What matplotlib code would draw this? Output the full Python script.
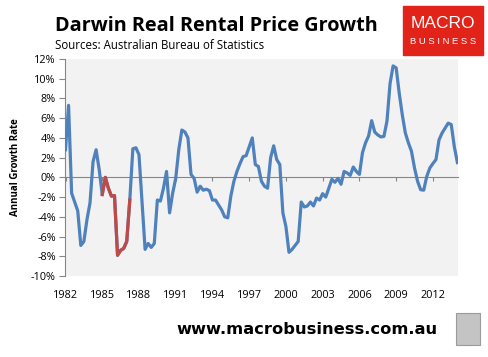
import matplotlib.pyplot as plt
import numpy as np
from matplotlib.patches import Rectangle

# quarterly annual growth rate (%), 1982 Q1 onwards
growth = [
    2.8, 7.3, -1.6, -2.5, -3.4, -6.9, -6.5, -4.3, -2.6, 1.6, 2.8, 0.8,
    -1.75, 0.0, -1.1, -1.9, -1.85, -7.9, -7.4, -7.2, -6.5, -2.3, 2.9, 3.0,
    2.3, -2.5, -7.3, -6.7, -7.1, -6.7, -2.3, -2.4, -1.1, 0.6, -3.6, -1.6,
    -0.1, 2.8, 4.8, 4.6, 4.0, 0.3, -0.1, -1.5, -0.9, -1.3, -1.2, -1.35,
    -2.3, -2.3, -2.8, -3.3, -4.0, -4.1, -1.9, -0.4, 0.6, 1.4, 2.1, 2.2,
    3.1, 4.0, 1.3, 1.1, -0.4, -0.9, -1.1, 2.0, 3.2, 1.8, 1.3, -3.6,
    -5.0, -7.6, -7.3, -6.9, -6.5, -2.5, -3.0, -2.9, -2.5, -2.9, -2.1, -2.3,
    -1.65, -2.0, -1.1, -0.2, -0.5, -0.1, -0.7, 0.6, 0.45, 0.2, 1.05, 0.6,
    0.3, 2.5, 3.5, 4.2, 5.75, 4.6, 4.3, 4.1, 4.15, 5.7, 9.5, 11.3,
    11.1, 8.55, 6.35, 4.5, 3.5, 2.65, 0.95, -0.4, -1.25, -1.3, 0.1, 0.95,
    1.4, 1.8, 3.8, 4.5, 5.0, 5.5, 5.35, 3.1, 1.5,
]
start_year = 1982
highlight = (12, 21)  # index range drawn in red
year_ticks = list(range(1982, 2013, 3))
y_ticks = list(range(-10, 13, 2))

W, H = 489, 357
years = start_year + np.arange(len(growth)) * 0.25
growth = np.array(growth)

fig = plt.figure(figsize=(W / 100, H / 100), dpi=100)
fig.patch.set_facecolor("white")

ax = fig.add_axes([65.5 / W, 1 - 276 / H, (458 - 65.5) / W, (276 - 59) / H])
ax.set_facecolor("#f2f2f2")

ax.plot(years, growth, color="#4f81bd", lw=2.3, solid_joinstyle="round", zorder=3)
a, b = highlight
ax.plot(years[a:b + 1], growth[a:b + 1], color="#be4b48", lw=2.3,
        solid_joinstyle="round", zorder=4)

ax.set_xlim(start_year, years[-1] + 0.05)
ax.set_ylim(-10, 12)

for s in ["top", "right"]:
    ax.spines[s].set_visible(False)
ax.spines["left"].set_color("#868686")
ax.spines["bottom"].set_color("#868686")
ax.spines["bottom"].set_position(("data", 0))
ax.spines["bottom"].set_zorder(2)

tick_font = dict(family="Open Sans", size=7.8)
ax.set_yticks(y_ticks)
ax.set_yticklabels([f"{v}%" for v in y_ticks], **tick_font)
ax.tick_params(axis="y", direction="out", length=4, color="#868686", pad=3)

ax.set_xticks(year_ticks)
ax.tick_params(axis="x", direction="out", length=3, color="#868686",
               labelbottom=False)

sec = ax.secondary_xaxis("bottom")
sec.set_xticks(year_ticks)
sec.set_xticklabels([str(y) for y in year_ticks], **tick_font)
sec.tick_params(length=0, pad=10)
sec.spines["bottom"].set_visible(False)

ax.set_ylabel("Annual Growth Rate", family="Open Sans", fontsize=7,
              fontweight="bold", labelpad=7)

fig.text(55 / W, 1 - 31 / H, "Darwin Real Rental Price Growth",
         family="Open Sans", fontsize=14.3, fontweight="bold", va="baseline")
fig.text(55 / W, 1 - 49 / H, "Sources: Australian Bureau of Statistics",
         family="Open Sans", fontsize=8.3, va="baseline")

# logo box
fig.patches.append(Rectangle((403 / W, 1 - 55 / H), 80 / W, 49 / H,
                             transform=fig.transFigure, color="#e2231a",
                             zorder=5))
fig.text(443 / W, 1 - 24 / H, "MACRO", color="white", family="Liberation Sans",
         fontsize=12.5, ha="center", va="center", zorder=6)
fig.text(443 / W, 1 - 41 / H, "B U S I N E S S", color="white",
         family="Liberation Sans", fontsize=6.8, ha="center", va="center",
         zorder=6)

fig.text(438 / W, 1 - 330 / H, "www.macrobusiness.com.au", family="DejaVu Sans",
         fontsize=11.7, fontweight="bold", ha="right", va="center")

# small wolf badge placeholder
fig.patches.append(Rectangle((456 / W, 1 - 345 / H), 24 / W, 32 / H,
                             transform=fig.transFigure, facecolor="#c4c4c4",
                             edgecolor="#9a9a9a", lw=0.8))

fig.savefig("out.png", dpi=100)
